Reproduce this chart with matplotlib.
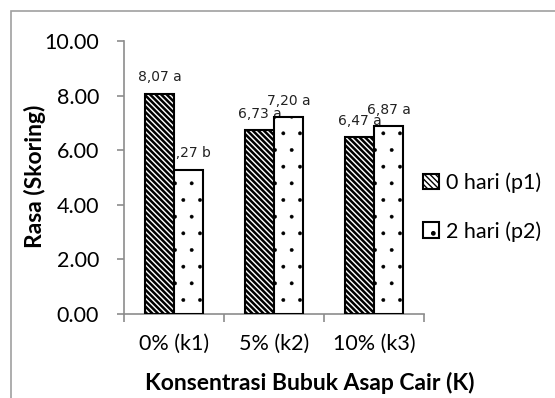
import matplotlib
matplotlib.use("Agg")
import matplotlib.pyplot as plt
from matplotlib.patches import Rectangle
import numpy as np

categories = ["0% (k1)", "5% (k2)", "10% (k3)"]
series_names = ["0 hari (p1)", "2 hari (p2)"]
p1_values = [8.07, 6.73, 6.47]
p2_values = [5.27, 7.20, 6.87]
p1_labels = ["8,07 a", "6,73 a", "6,47 a"]
p2_labels = ["5,27 b", "7,20 a", "6,87 a"]
y_ticks = [0, 2, 4, 6, 8, 10]

W, H = 555, 398
DPI = 100
main_font = "Lato"
grey = "#8c8c8c"

fig = plt.figure(figsize=(W / DPI, H / DPI), dpi=DPI)
ax = fig.add_axes([124 / W, 1 - 314 / H, 300 / W, (314 - 41) / H])

# outer chart frame
fig.patches.append(Rectangle((11 / W, -0.1), 1.2, 1 - 11 / H + 0.1,
                             transform=fig.transFigure, fill=False,
                             edgecolor="#a0a0a0", linewidth=1.2))

x = np.arange(len(categories))
bw = 0.29

def make_bars(xpos, vals, hatch, hlw):
    with plt.rc_context({"hatch.linewidth": hlw, "hatch.color": "black"}):
        bars = ax.bar(xpos, vals, width=bw, facecolor="white",
                      edgecolor="black", linewidth=1.5, hatch=hatch, zorder=3)
    for b in bars:
        if hasattr(b, "set_hatch_linewidth"):
            b.set_hatch_linewidth(hlw)
    return bars

b1 = make_bars(x - bw / 2, p1_values, "\\" * 6, 1.8)
b2 = make_bars(x + bw / 2, p2_values, ".", 0.3)

for bars, labels in ((b1, p1_labels), (b2, p2_labels)):
    for b, lab in zip(bars, labels):
        ax.annotate(lab, (b.get_x() + b.get_width() / 2, b.get_height()),
                    xytext=(0, 7), textcoords="offset points",
                    ha="center", va="bottom", fontsize=10,
                    family="DejaVu Sans", color="#222222", zorder=2)

ax.set_xlim(-0.5, 2.5)
ax.set_ylim(0, 10)
ax.set_yticks(y_ticks)
ax.set_yticklabels([f"{v:.2f}" for v in y_ticks], fontsize=15.5, family=main_font)
ax.set_xticks([-0.5, 0.5, 1.5, 2.5])
ax.set_xticklabels([])
ax.set_xticks(x, minor=True)
ax.set_xticklabels(categories, minor=True, fontsize=15.5, family=main_font)
ax.tick_params(axis="x", which="major", length=6, color=grey, width=1.2)
ax.tick_params(axis="x", which="minor", length=0, pad=14)
ax.tick_params(axis="y", length=5, color=grey, width=1.2, pad=13)

for s in ("top", "right"):
    ax.spines[s].set_visible(False)
for s in ("left", "bottom"):
    ax.spines[s].set_color(grey)
    ax.spines[s].set_linewidth(1.2)

fig.text(35 / W, 1 - 176 / H, "Rasa (Skoring)", rotation=90, ha="center",
         va="center", fontsize=16.5, fontweight="bold", family=main_font)
fig.text(310 / W, 1 - 383 / H, "Konsentrasi Bubuk Asap Cair (K)", ha="center",
         va="center", fontsize=16.5, fontweight="bold", family=main_font)

leg = fig.legend([b1[0], b2[0]], series_names, loc="center left",
                 bbox_to_anchor=(423 / W, 1 - 207 / H), frameon=False,
                 prop={"family": main_font, "size": 15.5},
                 handlelength=0.75, handleheight=0.75, handletextpad=0.3,
                 labelspacing=1.3, borderaxespad=0, borderpad=0)

fig.savefig("out.png", dpi=DPI)
